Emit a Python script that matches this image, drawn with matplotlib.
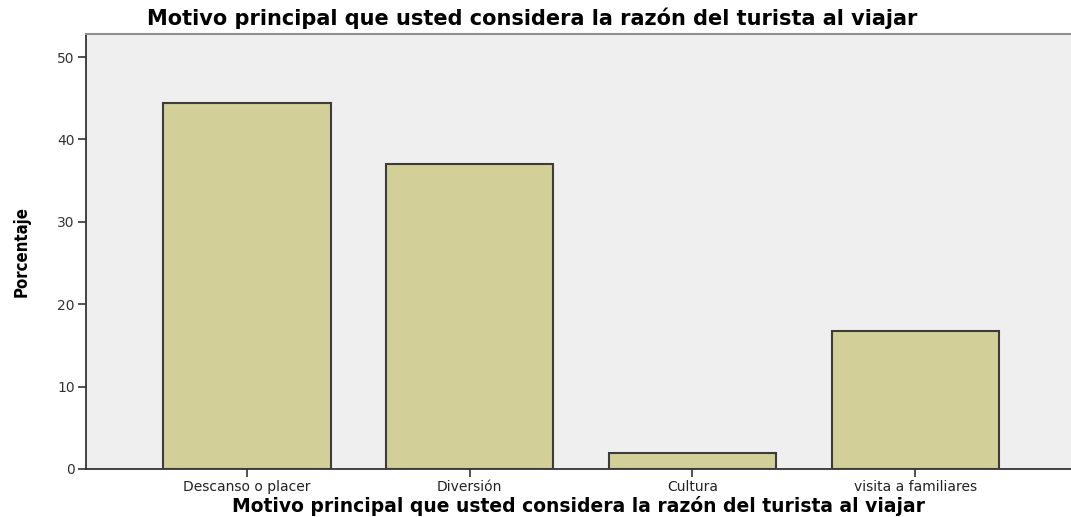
import numpy as np
import matplotlib
matplotlib.use("Agg")
import matplotlib.pyplot as plt

# Motivo principal del viaje (porcentaje)
categorias = ["Descanso o placer", "Diversión", "Cultura", "visita a familiares"]
porcentaje = [44.4, 37.0, 1.9, 16.7]
y_ticks = [0, 10, 20, 30, 40, 50]

titulo = "Motivo principal que usted considera la razón del turista al viajar"

fig = plt.figure(figsize=(10.71, 5.17), dpi=100)
ax = fig.add_axes([86 / 1071, 48 / 517, 985 / 1071, 435 / 517])
ax.set_facecolor("#efefef")

x = np.arange(len(categorias))
ax.bar(x, porcentaje, width=0.75, color="#d3cf98", edgecolor="#3c3c3c", linewidth=1.5, zorder=3)

ax.set_xlim(-0.723, 3.70)
ax.set_ylim(0, 52.8)
ax.set_xticks(x)
ax.set_xticklabels(categorias, fontsize=10, color="#222222", family="DejaVu Sans")
ax.set_yticks(y_ticks)
ax.set_yticklabels([str(v) for v in y_ticks], fontsize=10, color="#333333", family="DejaVu Sans")
ax.tick_params(axis="both", direction="out", length=6, width=1.2, color="#333333", pad=2)

for s in ["left", "bottom"]:
    ax.spines[s].set_color("#333333")
    ax.spines[s].set_linewidth(1.3)
ax.spines["top"].set_color("#909090")
ax.spines["top"].set_linewidth(1.5)
ax.spines["right"].set_visible(False)

ax.set_xlabel(titulo, fontsize=13.5, fontweight="bold", family="DejaVu Sans", labelpad=1)
ax.set_ylabel("Porcentaje", fontsize=12, fontweight="bold", family="DejaVu Sans",
              fontstretch="condensed", labelpad=19)
fig.text(0.4968, 0.964, titulo, ha="center", va="center", fontsize=15, fontweight="bold", family="DejaVu Sans")

fig.savefig("out.png", dpi=100)
